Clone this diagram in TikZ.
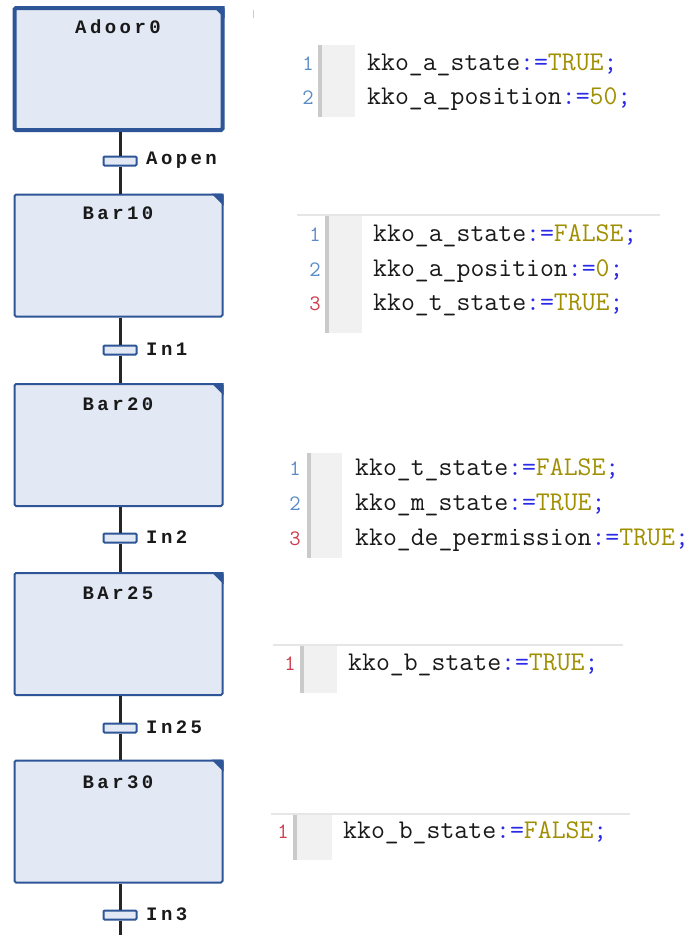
\documentclass[tikz,border=0pt]{standalone}
\usepackage{fontspec}
\newfontfamily\codefont{Latin Modern Mono}
\newfontfamily\titlefont[LetterSpace=18]{Liberation Mono Bold}
\definecolor{stepblue}{HTML}{2E5597}
\definecolor{stepfill}{HTML}{E2E9F5}
\definecolor{numblue}{HTML}{5B8BC6}
\definecolor{numred}{HTML}{D03C4C}
\definecolor{opblue}{HTML}{2A2AE8}
\definecolor{valolive}{HTML}{A08F00}
\definecolor{gutterbar}{HTML}{CACACA}
\definecolor{gutterfill}{HTML}{F1F1F1}
\definecolor{topline}{HTML}{E6E6E6}
\newcommand\op[1]{\textcolor{opblue}{#1}}
\newcommand\vl[1]{\textcolor{valolive}{#1}}
\begin{document}
\begin{tikzpicture}[x=1pt,y=-1pt,
  stepbox/.style={rectangle,draw=stepblue,fill=stepfill,line width=2pt,rounded corners=1.5pt,minimum width=208pt,minimum height=122pt,inner sep=0pt},
  initbox/.style={stepbox,line width=4pt},
  steptitle/.style={font=\titlefont\fontsize{19}{19}\selectfont,text=black!90,inner sep=0pt},
  transbar/.style={rectangle,draw=stepblue,fill=stepfill,line width=2pt,rounded corners=1pt,minimum width=33pt,minimum height=9pt,inner sep=0pt},
  translabel/.style={font=\titlefont\fontsize{19}{19}\selectfont,text=black!90,anchor=west,inner sep=0pt},
  link/.style={draw=black!85,line width=3pt},
  codeline/.style={font=\codefont\fontsize{27}{27}\selectfont,text=black!90,anchor=base west,inner sep=0pt},
  lnum/.style={font=\codefont\fontsize{22}{22}\selectfont,anchor=base,inner sep=0pt},
]
\useasboundingbox[fill=white] (0,0) rectangle (690,935);

% ---------- SFC chain ----------
\node[initbox] (s1) at (118.5,69) {};
\node[stepbox] (s2) at (118.5,255.5) {};
\node[stepbox] (s3) at (118.5,445) {};
\node[stepbox] (s4) at (118.5,634) {};
\node[stepbox] (s5) at (118.5,821.5) {};

\foreach \s in {s1,s2,s3,s4,s5}{
  \fill[stepblue] ([xshift=-12pt]\s.north east) -- (\s.north east) -- ([yshift=-12pt]\s.north east) -- cycle;
}

\node[steptitle] (t1) at (118,27) {Adoor0};
\node[steptitle] (t2) at (118,213) {Bar10};
\node[steptitle] (t3) at (118,404) {Bar20};
\node[steptitle] (t4) at (118,593) {BAr25};
\node[steptitle] (t5) at (118,782) {Bar30};

\node[transbar] (tr1) at (120,161) {};
\node[transbar] (tr2) at (120,350) {};
\node[transbar] (tr3) at (120,538) {};
\node[transbar] (tr4) at (120,728) {};
\node[transbar] (tr5) at (120,915) {};

\node[translabel] (l1) at (146,160) {Aopen};
\node[translabel] (l2) at (146,349) {In1};
\node[translabel] (l3) at (146,537) {In2};
\node[translabel] (l4) at (146,727) {In25};
\node[translabel] (l5) at (146,914) {In3};

\coordinate (end) at (120,935);

\draw[link] (s1.south -| tr1) -- (tr1.north);
\draw[link] (tr1.south) -- (s2.north -| tr1);
\draw[link] (s2.south -| tr2) -- (tr2.north);
\draw[link] (tr2.south) -- (s3.north -| tr2);
\draw[link] (s3.south -| tr3) -- (tr3.north);
\draw[link] (tr3.south) -- (s4.north -| tr3);
\draw[link] (s4.south -| tr4) -- (tr4.north);
\draw[link] (tr4.south) -- (s5.north -| tr4);
\draw[link] (s5.south -| tr5) -- (tr5.north);
\draw[link] (tr5.south) -- (end);

% small mark at top
\draw[gray!40,line width=1pt] (253,10) -- (253,18);

% ---------- code panel 1 ----------
\fill[gutterbar] (318,45) rectangle (322,117);
\fill[gutterfill] (322,45) rectangle (355,117);
\node[lnum,text=numblue] (p1n1) at (308,70) {1};
\node[lnum,text=numblue] (p1n2) at (308,104) {2};
\node[codeline] (p1c1) at (367,70) {kko\_a\_state\op{:=}\vl{TRUE}\op{;}};
\node[codeline] (p1c2) at (367,104) {kko\_a\_position\op{:=}\vl{50}\op{;}};

% ---------- code panel 2 ----------
\draw[topline,line width=2pt] (297,215) -- (660,215);
\fill[gutterbar] (325,216) rectangle (329,333);
\fill[gutterfill] (329,216) rectangle (362,333);
\node[lnum,text=numblue] (p2n1) at (315,241) {1};
\node[lnum,text=numblue] (p2n2) at (315,276) {2};
\node[lnum,text=numred] (p2n3) at (315,310) {3};
\node[codeline] (p2c1) at (373,241) {kko\_a\_state\op{:=}\vl{FALSE}\op{;}};
\node[codeline] (p2c2) at (373,276) {kko\_a\_position\op{:=}\vl{0}\op{;}};
\node[codeline] (p2c3) at (373,310) {kko\_t\_state\op{:=}\vl{TRUE}\op{;}};

% ---------- code panel 3 ----------
\fill[gutterbar] (307,453) rectangle (311,558);
\fill[gutterfill] (311,453) rectangle (342,558);
\node[lnum,text=numblue] (p3n1) at (295,475) {1};
\node[lnum,text=numblue] (p3n2) at (295,510) {2};
\node[lnum,text=numred] (p3n3) at (295,545) {3};
\node[codeline] (p3c1) at (355,475) {kko\_t\_state\op{:=}\vl{FALSE}\op{;}};
\node[codeline] (p3c2) at (355,510) {kko\_m\_state\op{:=}\vl{TRUE}\op{;}};
\node[codeline] (p3c3) at (355,545) {kko\_de\_permission\op{:=}\vl{TRUE}\op{;}};

% ---------- code panel 4 ----------
\draw[topline,line width=2pt] (273,645) -- (623,645);
\fill[gutterbar] (300,646) rectangle (304,693);
\fill[gutterfill] (304,646) rectangle (337,693);
\node[lnum,text=numred] (p4n1) at (290,670) {1};
\node[codeline] (p4c1) at (348,670) {kko\_b\_state\op{:=}\vl{TRUE}\op{;}};

% ---------- code panel 5 ----------
\draw[topline,line width=2pt] (271,814) -- (630,814);
\fill[gutterbar] (293,815) rectangle (297,860);
\fill[gutterfill] (297,815) rectangle (332,860);
\node[lnum,text=numred] (p5n1) at (283,838) {1};
\node[codeline] (p5c1) at (343,838) {kko\_b\_state\op{:=}\vl{FALSE}\op{;}};
\end{tikzpicture}
\end{document}
